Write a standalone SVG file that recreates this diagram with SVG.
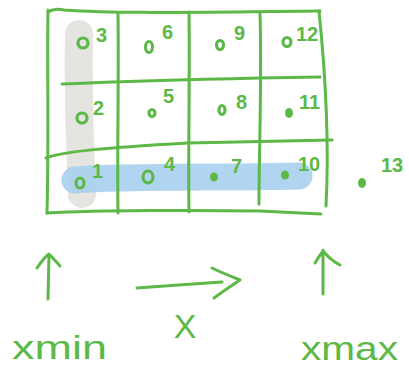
<svg xmlns="http://www.w3.org/2000/svg" width="409" height="368" viewBox="0 0 409 368">
  <style>
    .ink { fill: none; stroke: #5cb947; stroke-width: 3; stroke-linecap: round; stroke-linejoin: round; }
    .ring { fill: none; stroke: #5cb947; stroke-width: 3.2; }
    .dot { fill: #5cb947; }
    .num { font-family: "Liberation Sans", Arial, sans-serif; font-size: 20px; font-weight: bold; fill: #5cb947; }
    .word { font-family: "Liberation Sans", Arial, sans-serif; font-size: 34px; fill: #5cb947; }
  </style>
  <rect width="409" height="368" fill="#ffffff"/>

  <!-- highlight strokes behind the grid -->
  <g id="highlights">
    <path d="M79,34 C78,90 80,150 82,194" fill="none" stroke="#e6e4e1" stroke-width="28" stroke-linecap="round"/>
    <path d="M75,180 C130,176 220,178 299,176" fill="none" stroke="#a9d0ee" stroke-width="27" stroke-linecap="round" opacity="0.9"/>
  </g>

  <!-- grid -->
  <g id="grid" class="ink">
    <path d="M48,10 C47,60 49,140 47,213"/>
    <path d="M118,14 C119,80 117,150 118,213"/>
    <path d="M189,12 C190,80 188,150 189,212"/>
    <path d="M260,12 C262,80 259,150 259,204"/>
    <path d="M319,11 C323,50 330,130 326,206"/>
    <path d="M48,12 C54,8 60,9 64,10 C120,14 200,12 320,11"/>
    <path d="M62,84 C110,82 170,80 260,78 L320,77"/>
    <path d="M46,158 C60,152 100,148 188,143 L332,140"/>
    <path d="M47,213 C100,210 200,210 260,211 L321,214"/>
  </g>

  <!-- points -->
  <g id="p3"><circle class="ring" cx="83" cy="43" r="5"/><text class="num" x="96" y="42">3</text></g>
  <g id="p6"><ellipse class="ring" cx="149" cy="47" rx="3.5" ry="5.5"/><text class="num" x="162" y="39">6</text></g>
  <g id="p9"><ellipse class="ring" cx="220" cy="45" rx="3.5" ry="4.5"/><text class="num" x="234" y="40">9</text></g>
  <g id="p12"><ellipse class="ring" cx="287" cy="42" rx="4" ry="4.5"/><text class="num" x="296" y="41">12</text></g>

  <g id="p2"><circle class="ring" cx="82" cy="118" r="5"/><text class="num" x="93" y="115">2</text></g>
  <g id="p5"><ellipse class="ring" cx="152" cy="113" rx="3" ry="3.5"/><text class="num" x="163" y="103">5</text></g>
  <g id="p8"><ellipse class="ring" cx="222" cy="110" rx="3" ry="4.5"/><text class="num" x="236" y="109">8</text></g>
  <g id="p11"><ellipse class="dot" cx="289" cy="113" rx="4" ry="5"/><text class="num" x="299" y="109">11</text></g>

  <g id="p1"><ellipse class="ring" cx="80" cy="183" rx="4" ry="5"/><text class="num" x="92" y="178">1</text></g>
  <g id="p4"><ellipse class="ring" cx="148" cy="177" rx="5" ry="6"/><text class="num" x="164" y="171">4</text></g>
  <g id="p7"><ellipse class="dot" cx="214" cy="177" rx="4" ry="4.5"/><text class="num" x="231" y="173">7</text></g>
  <g id="p10"><ellipse class="dot" cx="285" cy="175" rx="4" ry="4.5"/><text class="num" x="298" y="171">10</text></g>
  <g id="p13"><ellipse class="dot" cx="362" cy="183" rx="4" ry="5"/><text class="num" x="381" y="172">13</text></g>

  <!-- arrows -->
  <g id="connectors" class="ink">
    <path d="M48,299 L49,254 M37,268 C41,262 45,257 49,254 C53,258 57,263 60,266"/>
    <path d="M137,288 C165,286 195,284 222,282 M212,268 C220,272 230,276 240,280 C231,286 222,292 214,298"/>
    <path d="M323,294 L323,250 M315,263 C318,258 320,255 323,251 C328,257 334,262 340,265"/>
  </g>

  <!-- axis labels -->
  <g id="labels">
    <text class="word" x="185" y="338" text-anchor="middle" font-size="32">X</text>
    <text class="word" x="12" y="359" textLength="95" lengthAdjust="spacingAndGlyphs">xmin</text>
    <text class="word" x="301" y="360" textLength="97" lengthAdjust="spacingAndGlyphs">xmax</text>
  </g>
</svg>
